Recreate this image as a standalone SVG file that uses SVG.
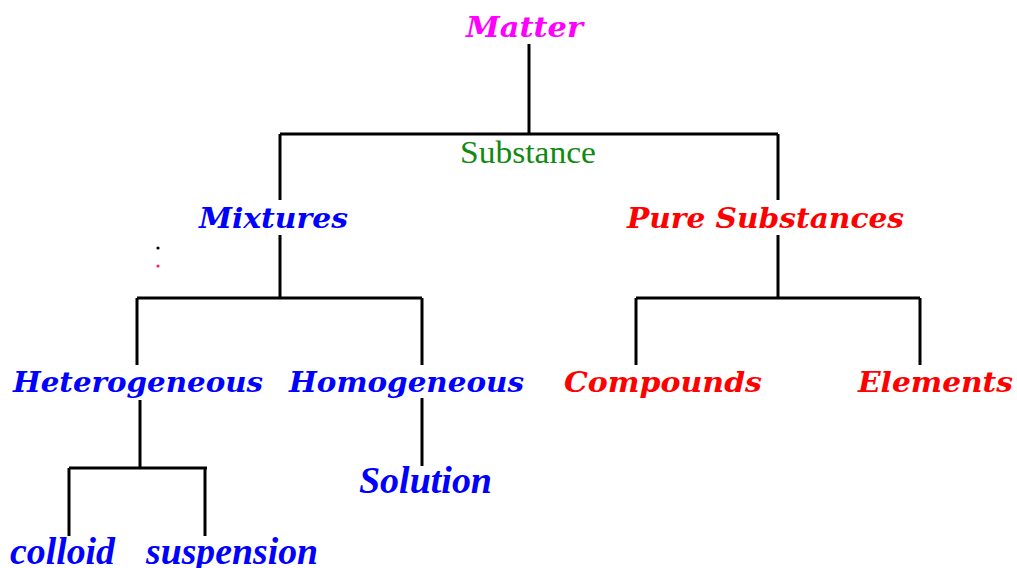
<svg xmlns="http://www.w3.org/2000/svg" width="1017" height="568" viewBox="0 0 1017 568">
<style>
.t{font-family:"DejaVu Serif",serif;font-weight:bold;font-style:italic;font-size:27px}
.b{font-family:"Liberation Serif","Times New Roman",serif;font-weight:bold;font-style:italic;font-size:37px;fill:#0000ff}
.blue{fill:#0000ff}.red{fill:#ff0000}.mag{fill:#ff00ff}
.ln{stroke:#000;stroke-width:3;fill:none}
</style>
<rect width="1017" height="568" fill="#fff"/>
<g id="connectors">
<path class="ln" d="M529 44V134M280 134H778M280 134V200M778 134V200"/>
<path class="ln" d="M280 235V298M137 298H422M137 298V365M422 298V365"/>
<path class="ln" d="M778 235V298M636 298H920M636 298V365M920 298V365"/>
<path class="ln" d="M140 400V468M69 468H207M69 468V536M205 468V536"/>
<path class="ln" d="M422 398V466"/>
</g>
<g id="matter"><text class="t mag" x="466" y="37" textLength="117" lengthAdjust="spacingAndGlyphs">Matter</text></g>
<g id="substance"><text x="460" y="163" font-family="Liberation Serif,serif" font-size="32" fill="#108a10" textLength="136" lengthAdjust="spacingAndGlyphs">Substance</text></g>
<g id="mixtures"><text class="t blue" x="199" y="228" textLength="149" lengthAdjust="spacingAndGlyphs">Mixtures</text></g>
<g id="pure"><text class="t red" x="627" y="228" textLength="277" lengthAdjust="spacingAndGlyphs">Pure Substances</text></g>
<g id="dots"><circle cx="158" cy="248" r="1.6" fill="#000"/><circle cx="158" cy="266" r="1.6" fill="#ff1a75"/></g>
<g id="heterogeneous"><text class="t blue" x="13" y="392" textLength="250" lengthAdjust="spacingAndGlyphs">Heterogeneous</text></g>
<g id="homogeneous"><text class="t blue" x="289" y="392" textLength="235" lengthAdjust="spacingAndGlyphs">Homogeneous</text></g>
<g id="compounds"><text class="t red" x="564" y="392" textLength="198" lengthAdjust="spacingAndGlyphs">Compounds</text></g>
<g id="elements"><text class="t red" x="858" y="392" textLength="155" lengthAdjust="spacingAndGlyphs">Elements</text></g>
<g id="solution"><text class="b" x="359" y="493" textLength="133" lengthAdjust="spacingAndGlyphs">Solution</text></g>
<g id="colloid"><text class="b" x="10" y="564" textLength="105" lengthAdjust="spacingAndGlyphs">colloid</text></g>
<g id="suspension"><text class="b" x="146" y="564" textLength="172" lengthAdjust="spacingAndGlyphs">suspension</text></g>
</svg>
